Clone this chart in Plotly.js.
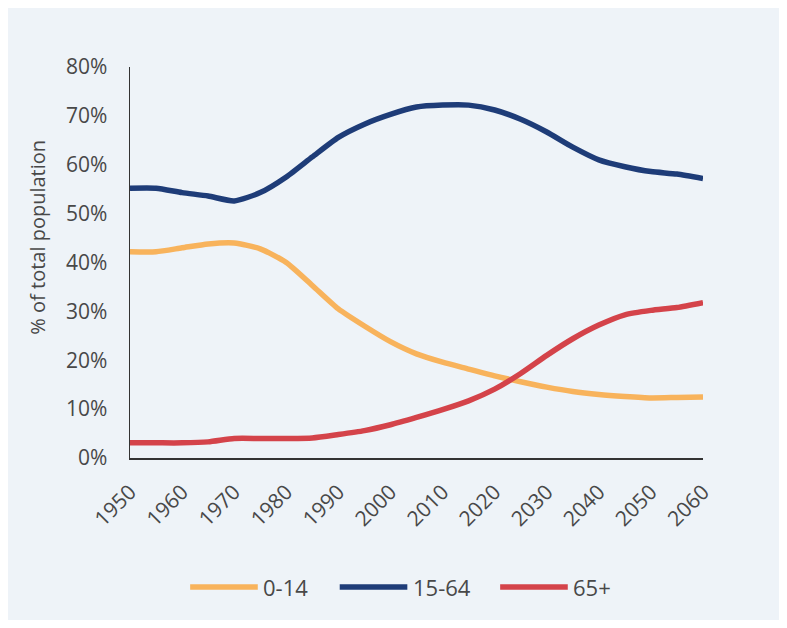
<!DOCTYPE html>
<html>
<head>
<meta charset="utf-8">
<script src="https://cdn.plot.ly/plotly-3.0.1.min.js"></script>
<style>
  html, body { margin: 0; padding: 0; background: #ffffff; }
  #chart { position: absolute; left: 8px; top: 8px; width: 771px; height: 612px; }
</style>
</head>
<body>
<div id="chart"></div>
<script>
// ---- data ----
const years = [1950,1955,1960,1965,1970,1975,1980,1985,1990,1995,2000,2005,2010,2015,2020,2025,2030,2035,2040,2045,2050,2055,2060];
const age0_14  = [42.2,42.2,43.0,43.8,44.0,42.8,40.0,35.3,30.5,27.0,23.8,21.3,19.6,18.2,16.8,15.6,14.5,13.6,13.0,12.6,12.3,12.4,12.5];
const age15_64 = [55.2,55.2,54.3,53.6,52.6,54.3,57.5,61.6,65.6,68.3,70.3,71.8,72.2,72.2,71.2,69.3,66.7,63.6,61.0,59.6,58.6,58.1,57.2];
const age65    = [3.1,3.1,3.1,3.3,4.0,4.0,4.0,4.1,4.8,5.6,6.8,8.3,9.9,11.7,14.1,17.3,21.0,24.4,27.2,29.3,30.2,30.8,31.8];
const seriesNames = ['0-14','15-64','65+'];
const xTicks = [1950,1960,1970,1980,1990,2000,2010,2020,2030,2040,2050,2060];
const yTicks = [0,10,20,30,40,50,60,70,80];
const yTitle = '% of total population';

const colors = ['#f8b35c','#1e3c78','#d4434a'];
const values = [age0_14, age15_64, age65];
const FONT = '"Open Sans", Lato, sans-serif';
const TXT = '#484848';

const traces = values.map((v,i)=>({
  x: years, y: v, type: 'scatter', mode: 'lines', name: seriesNames[i],
  line: {color: colors[i], width: 5.5, shape: 'spline', smoothing: 0.6},
  showlegend: false, hoverinfo: 'skip'
}));

// custom legend (long line samples)
const legX = [0.105, 0.366, 0.646];
const legLen = 0.118;
const legY = -0.33;
const shapes = [], annotations = [];
seriesNames.forEach((n,i)=>{
  shapes.push({type:'line', xref:'paper', yref:'paper', x0:legX[i], x1:legX[i]+legLen, y0:legY, y1:legY,
               line:{color:colors[i], width:5.5}});
  annotations.push({xref:'paper', yref:'paper', x:legX[i]+legLen+0.006, y:legY, xanchor:'left', yanchor:'middle',
                    text:n, showarrow:false, font:{family:FONT, size:22, color:TXT}});
});
annotations.push({xref:'paper', yref:'paper', x:-0.163, y:0.565, xanchor:'center', yanchor:'middle',
                  textangle:-90, text:yTitle, showarrow:false, font:{family:FONT, size:20, color:TXT}});

const layout = {
  width: 771, height: 612,
  paper_bgcolor: '#eef3f8', plot_bgcolor: 'rgba(0,0,0,0)',
  margin: {l:122, r:76, t:59, b:162},
  font: {family: FONT, color:TXT},
  xaxis: {range:[1950,2060], tickvals:xTicks, ticktext:xTicks.map(String), tickangle:-45,
          showgrid:false, zeroline:false, showline:true, linecolor:'#333', linewidth:1.5,
          ticks:'outside', ticklen:12, tickcolor:'rgba(0,0,0,0)',
          tickfont:{family:FONT, size:21, color:TXT}},
  yaxis: {range:[0,80], tickvals:yTicks, ticktext:yTicks.map(v=>v+'%'),
          showgrid:false, zeroline:false, showline:true, linecolor:'#333', linewidth:1.5,
          ticks:'outside', ticklen:17, tickcolor:'rgba(0,0,0,0)',
          tickfont:{family:FONT, size:21, color:TXT}},
  shapes: shapes, annotations: annotations,
  showlegend: false
};

Plotly.newPlot('chart', traces, layout, {displayModeBar:false, staticPlot:true});
</script>
</body>
</html>
